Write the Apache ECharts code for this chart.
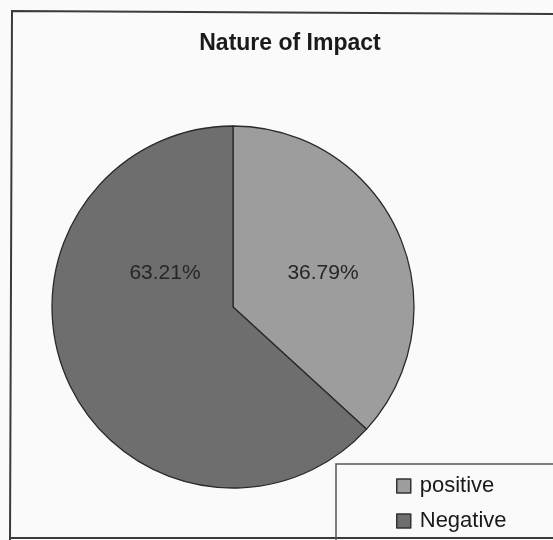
<!DOCTYPE html>
<html>
<head>
<meta charset="utf-8">
<script src="https://cdn.jsdelivr.net/npm/echarts@6/dist/echarts.min.js"></script>
<style>
  html, body { margin: 0; padding: 0; background: #fafafa; }
  #chart { width: 553px; height: 540px; }
</style>
</head>
<body>
<div id="chart"></div>
<script>
// Share of responses by nature of impact
const categories = ['positive', 'Negative'];
const shares = [36.79, 63.21];
const sliceColors = ['#9d9d9d', '#6e6e6e'];
// where each percentage label sits inside its slice
const labelSpots = [[323, 273], [165, 273]];

const chart = echarts.init(document.getElementById('chart'));

chart.setOption({
  backgroundColor: '#fafafa',
  animation: false,
  title: {
    text: 'Nature of Impact',
    left: 285,
    top: 27,
    textAlign: 'center',
    textStyle: { fontFamily: 'Liberation Sans, Arial', fontSize: 23, fontWeight: 'bold', color: '#1a1a1a' }
  },
  legend: {
    orient: 'vertical',
    left: 396,
    top: 475,
    padding: 0,
    itemWidth: 14,
    itemHeight: 14,
    itemGap: 13,
    icon: 'rect',
    itemStyle: { borderColor: '#333', borderWidth: 1.5 },
    textStyle: { fontFamily: 'Liberation Sans, Arial', fontSize: 22, color: '#1a1a1a', padding: [0, 0, 0, 4] },
    data: categories
  },
  graphic: [
    // chart frame
    { type: 'polyline', shape: { points: [[10, 540], [12, 11], [553, 14]] },
      style: { stroke: '#3a3a3a', lineWidth: 2, fill: null } },
    { type: 'line', shape: { x1: 10, y1: 538, x2: 553, y2: 538 },
      style: { stroke: '#3a3a3a', lineWidth: 2 } },
    // legend frame
    { type: 'polyline', shape: { points: [[336, 540], [336, 464], [553, 464]] },
      style: { stroke: '#555', lineWidth: 1.5, fill: null } }
  ],
  series: [{
    type: 'pie',
    center: [233, 307],
    radius: 181,
    startAngle: 90,
    clockwise: true,
    label: {
      show: true,
      position: 'inside',
      formatter: p => p.value.toFixed(2) + '%',
      fontFamily: 'Liberation Sans, Arial',
      fontSize: 21,
      color: '#262626'
    },
    labelLayout: p => ({ x: labelSpots[p.dataIndex][0], y: labelSpots[p.dataIndex][1], align: 'center', verticalAlign: 'middle' }),
    labelLine: { show: false },
    itemStyle: { borderColor: '#2a2a2a', borderWidth: 1.3 },
    emphasis: { disabled: true },
    data: categories.map((c, i) => ({
      name: c,
      value: shares[i],
      itemStyle: { color: sliceColors[i] }
    }))
  }]
});
</script>
</body>
</html>
